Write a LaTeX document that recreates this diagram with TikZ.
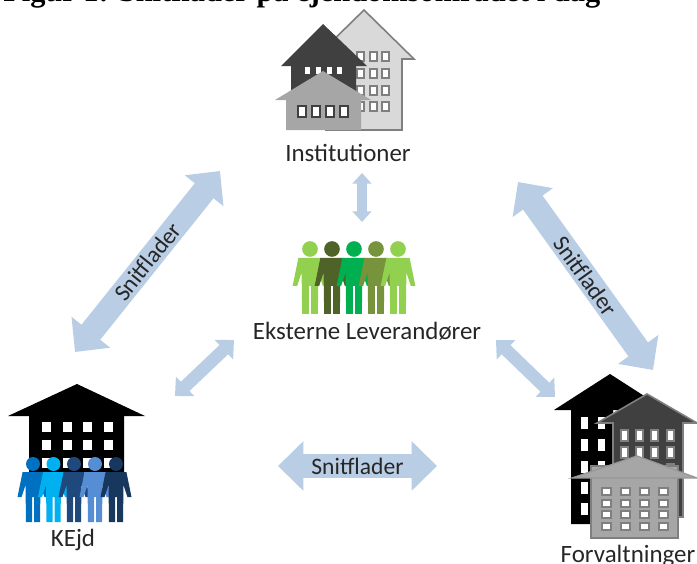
\documentclass[tikz,border=0pt]{standalone}
\usepackage{fontspec}
\setmainfont{Carlito}
\newfontfamily\titlefont{Liberation Serif}
\usepackage{xcolor}
\usepackage{tikz}
\usetikzlibrary{arrows.meta, positioning, calc}
\definecolor{snitblue}{HTML}{B9CDE5}
\definecolor{edgegray}{HTML}{7F7F7F}
\definecolor{darkgray}{HTML}{404040}
\definecolor{midgray}{HTML}{A6A6A6}
\definecolor{lightgray}{HTML}{D9D9D9}
\tikzset{
    bigsnit/.style={
        line width=18pt,
        draw=snitblue,
        {Triangle[length=19pt,width=36pt]}-{Triangle[length=19pt,width=36pt]},
    },
    midsnit/.style={
        line width=9.5pt,
        draw=snitblue,
        {Triangle[length=10.5pt,width=19.5pt]}-{Triangle[length=10.5pt,width=19.5pt]},
    },
    smallsnit/.style={
        line width=7pt,
        draw=snitblue,
        {Triangle[length=8pt,width=14pt]}-{Triangle[length=8pt,width=14pt]},
    },
    caption/.style={
        font=\fontsize{18.7}{21}\selectfont,
        text=black!85,
        inner sep=0pt,
    },
    snitlabel/.style={
        font=\fontsize{17.7}{20}\selectfont,
        text=black!85,
        inner sep=0pt,
    },
    winedge/.style={
        draw=edgegray,
        line width=1.3pt,
        fill=white,
    },
    windark/.style={
        draw=#1,
        line width=1.1pt,
        fill=white,
    },
    winwhite/.style={
        fill=white,
    },
}
% one figure, head centre at (#1,#2)
\newcommand{\person}[4]{
    \begin{scope}[shift={(#1,#2)}, scale=#3]
      \fill[#4] (0,0) circle (7);
      \fill[#4] (-10.4,8) -- (10.4,8) -- (15.5,33) -- (11.5,33) -- (7.5,21) -- (7,58) -- (1,58) -- (1,33)
        -- (-1,33) -- (-1,58) -- (-7,58) -- (-7.5,21) -- (-11.5,33) -- (-15.5,33) -- cycle;
    \end{scope}
}
\begin{document}
\begin{tikzpicture}[x=0.75pt, y=-0.75pt]
      \useasboundingbox (0,0) rectangle (697,564);

      \node[anchor=base west, inner sep=0pt, font=\titlefont\bfseries\fontsize{22.8}{26}\selectfont] (title) at (3,2) {Figur 1: Snitflader på ejendomsområdet i dag};

      % Institutioner
      \draw[edgegray, fill=lightgray, line width=1.2pt] (364,10) -- (414,59) -- (402,59) -- (402,130) -- (326,130) -- (326,59) -- (314,59) -- cycle;
      \foreach \wx in {357,370,382}
        \foreach \wy in {52,69,86,102}
          \draw[winedge] (\wx,\wy) rectangle ++(7,9);
      \fill[darkgray] (323,24) -- (367,66) -- (356,66) -- (356,105) -- (291,105) -- (291,66) -- (281,66) -- cycle;
      \foreach \wx in {305,316,327,337}
        \fill[winwhite] (\wx,67) rectangle ++(5,7);
      \fill[midgray] (323,71) -- (371,100) -- (361,100) -- (361,130) -- (286,130) -- (286,100) -- (275,100) -- cycle;
      \foreach \wx in {298,312,326,340}
        \draw[windark=darkgray] (\wx,106) rectangle ++(8,11);
      \node[caption] (inst) at (348,153) {Institutioner};

      % Eksterne
      \foreach \px/\pc in {310/92D050, 332/4F6228, 354/00B050, 376/77933C, 398/92D050}{
        \definecolor{pcol}{HTML}{\pc}
        \person{\px}{249}{1.12}{pcol}
      }
      \node[caption] (ekst) at (367,331) {Eksterne Leverandører};

      % KEjd
      \fill[black] (77,384) -- (145,416) -- (124,416) -- (124,472) -- (29,472) -- (29,416) -- (8,416) -- cycle;
      \foreach \wx in {42,63,83,104}
        \foreach \wy in {422,440,458}
          \fill[winwhite] (\wx,\wy) rectangle ++(9,10);
      \foreach \px/\pc in {33/0070C0, 53.5/00B0F0, 74/1F497D, 95/558ED5, 116/17375E}{
        \definecolor{pcol}{HTML}{\pc}
        \person{\px}{464}{1}{pcol}
      }
      \node[caption] (kejd) at (73,540) {KEjd};

      % Forvaltninger
      \fill[black] (610,374) -- (666,410) -- (613,410) -- (613,524) -- (571,524) -- (571,410) -- (554,410) -- cycle;
      \foreach \wy in {417,439,461,482,503}
        \fill[winwhite] (581,\wy) rectangle ++(7,12);
      \foreach \wy in {417,439,461}
        \fill[winwhite] (598,\wy) rectangle ++(7,12);
      \draw[edgegray, fill=darkgray, line width=1.2pt] (647,394) -- (697,423) -- (683,423) -- (683,517) -- (613,517) -- (613,423) -- (597,423) -- cycle;
      \foreach \wx in {621,636,651,667}
        \foreach \wy in {430,447,464}
          \draw[winedge] (\wx,\wy) rectangle ++(7,11);
      \draw[edgegray, fill=midgray, line width=1.2pt] (591,466) rectangle (678,538);
      \draw[edgegray!80, fill=midgray, line width=1pt] (637,456) -- (697,478) -- (572,478) -- cycle;
      \foreach \wx in {602,621,640,659}
        \foreach \wy in {488,500,511,523}
          \draw[winedge] (\wx,\wy) rectangle ++(9,7);
      \node[caption] (forv) at (628,556) {Forvaltninger};

      % snitflader
      \coordinate (instL) at (220,171);
      \coordinate (kejdT) at (75,352);
      \coordinate (instR) at (518,182);
      \coordinate (forvT) at (653,370);
      \coordinate (kejdR) at (278,466);
      \coordinate (forvL) at (437,466);
      \coordinate (instB) at (362,173);
      \coordinate (ekstT) at (362,222);
      \coordinate (ekstL) at (234,340);
      \coordinate (kejdS) at (175,396);
      \coordinate (ekstR) at (496,340);
      \coordinate (forvS) at (555,397);

      \draw[bigsnit] (kejdT) -- node[snitlabel, sloped, midway] (snitL) {Snitflader} (instL);
      \draw[bigsnit] (instR) -- node[snitlabel, sloped, midway] (snitR) {Snitflader} (forvT);
      \draw[bigsnit] (kejdR) -- node[snitlabel, midway] (snitB) {Snitflader} (forvL);
      \draw[smallsnit] (instB) -- (ekstT);
      \draw[midsnit] (ekstL) -- (kejdS);
      \draw[midsnit] (ekstR) -- (forvS);
    \end{tikzpicture}
\end{document}
